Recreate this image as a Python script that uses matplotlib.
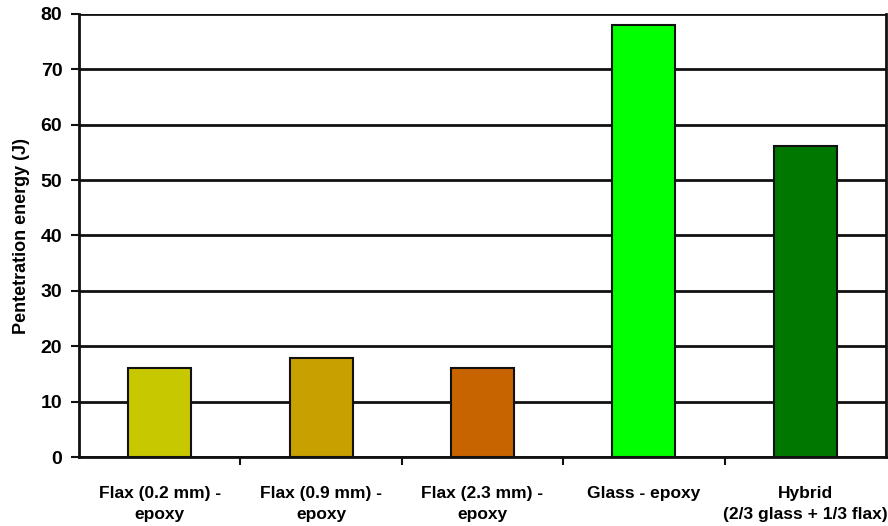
import numpy as np
import matplotlib as mpl
import matplotlib.pyplot as plt

mpl.rcParams.update({
    "font.family": ["Liberation Sans", "DejaVu Sans"],
    "font.weight": "bold",
})

categories = ["Flax (0.2 mm) -\nepoxy", "Flax (0.9 mm) -\nepoxy", "Flax (2.3 mm) -\nepoxy",
              "Glass - epoxy", "Hybrid\n(2/3 glass + 1/3 flax)"]
energy = [16.1, 17.8, 16.0, 78.0, 56.1]
colors = ["#c8c800", "#c8a000", "#c86400", "#00ff00", "#007800"]
INK = "#111111"

fig = plt.figure(figsize=(8.88, 5.26), dpi=100)
ax = fig.add_axes([79 / 888, 1 - 457 / 526, (886 - 79) / 888, (457 - 14) / 526])

x = np.arange(len(categories))
ax.bar(x, energy, width=0.39, color=colors, edgecolor=INK, linewidth=1.5, zorder=3)

ax.set_xlim(-0.5, len(categories) - 0.5)
ax.set_ylim(0, 80)
ax.set_yticks(np.arange(0, 81, 10))
ax.yaxis.grid(True, color=INK, linewidth=2, zorder=0)
ax.set_axisbelow(True)

ax.set_xticks(x)
ax.set_xticklabels(categories, fontsize=12.5, fontweight="bold", linespacing=1.5)
ax.set_xticks(np.arange(0.5, len(categories) - 1, 1), minor=True)
ax.tick_params(axis="x", which="major", length=0, pad=21)
ax.tick_params(axis="x", which="minor", length=6, width=1.5, direction="out", color=INK)
ax.tick_params(axis="y", length=6, width=1.5, direction="out", color=INK, labelsize=14, pad=6)
for lbl in ax.get_yticklabels():
    lbl.set_fontweight("bold")

for side in ("left", "bottom", "right"):
    ax.spines[side].set_linewidth(2)
    ax.spines[side].set_color(INK)
ax.spines["top"].set_visible(False)

ax.set_ylabel("Pentetration energy (J)", fontsize=13, fontweight="bold", labelpad=8)

fig.savefig("out.png", dpi=100)
